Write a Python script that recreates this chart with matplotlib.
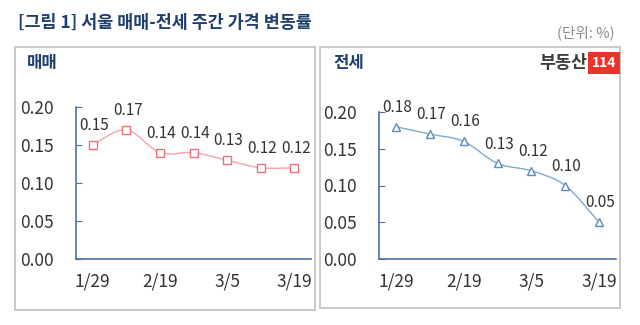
import matplotlib
matplotlib.use('Agg')
import matplotlib.pyplot as plt
from matplotlib.path import Path
from matplotlib.patches import PathPatch, Rectangle

plt.rcParams['font.family'] = ['Noto Sans CJK KR', 'DejaVu Sans']

# 데이터
weeks = ['1/29', '2/5', '2/19', '2/26', '3/5', '3/12', '3/19']
tick_labels = ['1/29', '', '2/19', '', '3/5', '', '3/19']
sale = [0.15, 0.17, 0.14, 0.14, 0.13, 0.12, 0.12]      # 매매
jeonse = [0.18, 0.17, 0.16, 0.13, 0.12, 0.10, 0.05]    # 전세
yticks = [0.00, 0.05, 0.10, 0.15, 0.20]

NAVY = '#1F3F6E'
AXIS = '#4A73A3'
TXT = '#333333'


def smooth_path(xs, ys):
    # Catmull-Rom -> bezier (엑셀 부드러운 선 흉내)
    pts = list(zip(xs, ys))
    verts = [pts[0]]
    codes = [Path.MOVETO]
    n = len(pts)
    for i in range(n - 1):
        p0 = pts[i - 1] if i > 0 else pts[i]
        p1 = pts[i]
        p2 = pts[i + 1]
        p3 = pts[i + 2] if i + 2 < n else pts[i + 1]
        c1 = (p1[0] + (p2[0] - p0[0]) / 6, p1[1] + (p2[1] - p0[1]) / 6)
        c2 = (p2[0] - (p3[0] - p1[0]) / 6, p2[1] - (p3[1] - p1[1]) / 6)
        verts += [c1, c2, p2]
        codes += [Path.CURVE4] * 3
    return Path(verts, codes)


def draw_panel(ax, vals, line_c, mark_c, marker):
    x = list(range(len(vals)))
    ax.add_patch(PathPatch(smooth_path(x, vals), fill=False,
                           edgecolor=line_c, lw=1.0, zorder=2))
    ax.plot(x, vals, ls='none', marker=marker, ms=5.5, mfc='white',
            mec=mark_c, mew=1.0, zorder=3)
    for xi, v in zip(x, vals):
        ax.annotate('%.2f' % v, (xi, v), xytext=(1, 14), textcoords='offset points',
                    ha='center', va='center', fontsize=11, color=TXT)
    ax.set_xlim(-0.5, 6.5)
    ax.set_ylim(0, 0.20)
    ax.set_yticks(yticks)
    ax.set_yticklabels(['%.2f' % t for t in yticks], fontsize=12.5, color=TXT)
    ax.set_xticks(x)
    ax.set_xticklabels(tick_labels, fontsize=12.5, color=TXT)
    for s in ['top', 'right']:
        ax.spines[s].set_visible(False)
    for s in ['left', 'bottom']:
        ax.spines[s].set_color(AXIS)
        ax.spines[s].set_linewidth(1.2)
    ax.tick_params(axis='y', direction='in', length=4, color=AXIS, pad=16)
    ax.tick_params(axis='x', length=0, pad=10)
    ax.patch.set_alpha(0)


fig = plt.figure(figsize=(6.4, 3.25), dpi=100)

# 패널 테두리
W, H = 640.0, 325.0
fig.patches.append(Rectangle((15 / W, 1 - 310 / H), 300 / W, 263 / H, transform=fig.transFigure,
                             fill=False, edgecolor='#C4C4C4', lw=1.3))
fig.patches.append(Rectangle((320 / W, 1 - 308 / H), 300 / W, 261 / H, transform=fig.transFigure,
                             fill=False, edgecolor='#C4C4C4', lw=1.3))

ax1 = fig.add_axes([76 / W, 1 - 259 / H, 235 / W, 152 / H])
ax2 = fig.add_axes([379 / W, 1 - 259 / H, 237 / W, 147 / H])
draw_panel(ax1, sale, '#F4A3A8', '#EC6F79', 's')
draw_panel(ax2, jeonse, '#7FA9CC', '#5A8DBA', '^')

fig.text(18 / W, 1 - 23 / H, '[그림 1] 서울 매매-전세 주간 가격 변동률', fontsize=12.5,
         fontweight='bold', color=NAVY, ha='left', va='center')
fig.text(615 / W, 1 - 33 / H, '(단위: %)', fontsize=10.5, color='#8A8A8A',
         ha='right', va='center')
fig.text(27 / W, 1 - 63 / H, '매매', fontsize=12, fontweight='bold', color=NAVY,
         ha='left', va='center')
fig.text(333 / W, 1 - 63 / H, '전세', fontsize=12, fontweight='bold', color=NAVY,
         ha='left', va='center')

# 로고
fig.text(587 / W, 1 - 63 / H, '부동산', fontsize=12.5, fontweight='heavy', color='#3C3C3C',
         ha='right', va='center')
fig.text(604 / W, 1 - 63 / H, '114', fontsize=10, fontweight='bold', color='white',
         ha='center', va='center',
         bbox=dict(boxstyle='square,pad=0.3', fc='#E8352B', ec='none'))

fig.savefig('out.png', dpi=100)
